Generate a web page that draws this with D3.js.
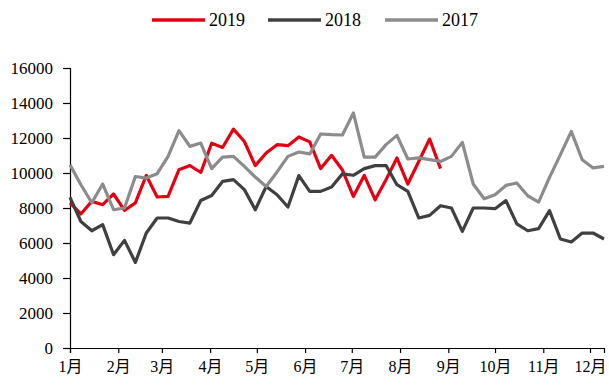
<!DOCTYPE html>
<html>
<head>
<meta charset="utf-8">
<script src="https://cdn.jsdelivr.net/npm/d3@7/dist/d3.min.js"></script>
<style>
  html, body { margin: 0; padding: 0; background: #fff; }
  svg { display: block; }
  .tick text { fill: #000; }
</style>
</head>
<body>
<div id="chart"></div>
<script>
// Weekly series, one value per week starting on 1 January.
const series2019 = [8290, 7660, 8380, 8190, 8800, 7860, 8290, 9860, 8630, 8660,
  10190, 10430, 10030, 11700, 11460, 12510, 11800, 10420, 11140, 11620,
  11560, 12060, 11780, 10250, 11010, 10170, 8660, 9860, 8470, 9620,
  10860, 9370, 10660, 11940, 10250];
const series2018 = [8610, 7230, 6700, 7050, 5330, 6150, 4890, 6570, 7430, 7430,
  7230, 7140, 8430, 8710, 9520, 9620, 9050, 7900, 9230, 8760,
  8060, 9850, 8950, 8950, 9200, 9950, 9870, 10250, 10420, 10430,
  9330, 8950, 7430, 7580, 8130, 8000, 6660, 8000, 8000, 7960,
  8420, 7090, 6700, 6820, 7850, 6230, 6060, 6570, 6570, 6230];
const series2017 = [10470, 9330, 8300, 9370, 7900, 8000, 9800, 9710, 9960, 10950,
  12420, 11520, 11710, 10250, 10910, 10950, 10380, 9770, 9230, 10060,
  10950, 11200, 11090, 12230, 12190, 12170, 13430, 10910, 10910, 11620,
  12150, 10800, 10860, 10760, 10660, 10950, 11750, 9370, 8530, 8760,
  9290, 9430, 8700, 8340, 9750, 11050, 12380, 10760, 10290, 10380];
const seriesNames = ["2019", "2018", "2017"];
const seriesColors = ["#e50012", "#404040", "#8c8c8c"];
const yTicks = [0, 2000, 4000, 6000, 8000, 10000, 12000, 14000, 16000];
const monthLabels = ["1月", "2月", "3月", "4月", "5月", "6月", "7月", "8月", "9月", "10月", "11月", "12月"];

const W = 609, H = 385;
const margin = { left: 70, right: 5, top: 68, bottom: 37 };

const start = new Date(2019, 0, 1);
const weekDate = i => d3.timeDay.offset(start, 7 * i);
const nWeeks = series2018.length;

const svg = d3.select("#chart").append("svg")
  .attr("width", W).attr("height", H);

const x = d3.scaleTime()
  .domain([start, weekDate(nWeeks - 1)])
  .range([margin.left, W - margin.right]);
const y = d3.scaleLinear()
  .domain([0, 16000])
  .range([H - margin.bottom, margin.top]);

const fontFamily = "'Liberation Serif', 'Times New Roman', 'Noto Sans CJK SC', serif";

// Y axis
const yAxis = svg.append("g")
  .attr("transform", `translate(${margin.left},0)`)
  .call(d3.axisLeft(y).tickValues(yTicks).tickSize(7).tickPadding(10).tickFormat(d3.format("d")));
yAxis.selectAll("text").style("font-family", fontFamily).style("font-size", "17px");

// X axis with month ticks
const months = d3.timeMonth.range(start, d3.timeDay.offset(x.domain()[1], 1));
const xAxis = svg.append("g")
  .attr("transform", `translate(0,${H - margin.bottom})`)
  .call(d3.axisBottom(x).tickValues(months).tickSize(5).tickPadding(8)
    .tickFormat((d, i) => monthLabels[d.getMonth()]));
xAxis.selectAll("text").style("font-family", fontFamily).style("font-size", "16px");

svg.selectAll(".domain").attr("stroke", "#000").attr("stroke-width", 1.2);
svg.selectAll(".tick line").attr("stroke", "#000").attr("stroke-width", 1.2);

// Lines
const line = d3.line()
  .x((d, i) => x(weekDate(i)))
  .y(d => y(d));

const allSeries = [series2019, series2018, series2017];
allSeries.forEach((s, k) => {
  svg.append("path")
    .datum(s)
    .attr("fill", "none")
    .attr("stroke", seriesColors[k])
    .attr("stroke-width", 3.2)
    .attr("stroke-linejoin", "round")
    .attr("d", line);
});

// Legend
const legendX = [152, 268, 385];
const legend = svg.append("g");
seriesNames.forEach((name, k) => {
  legend.append("line")
    .attr("x1", legendX[k]).attr("x2", legendX[k] + 53)
    .attr("y1", 20).attr("y2", 20)
    .attr("stroke", seriesColors[k]).attr("stroke-width", 3.5);
  legend.append("text")
    .attr("x", legendX[k] + 57).attr("y", 26)
    .style("font-family", fontFamily).style("font-size", "18px")
    .attr("fill", "#000")
    .text(name);
});
</script>
</body>
</html>
